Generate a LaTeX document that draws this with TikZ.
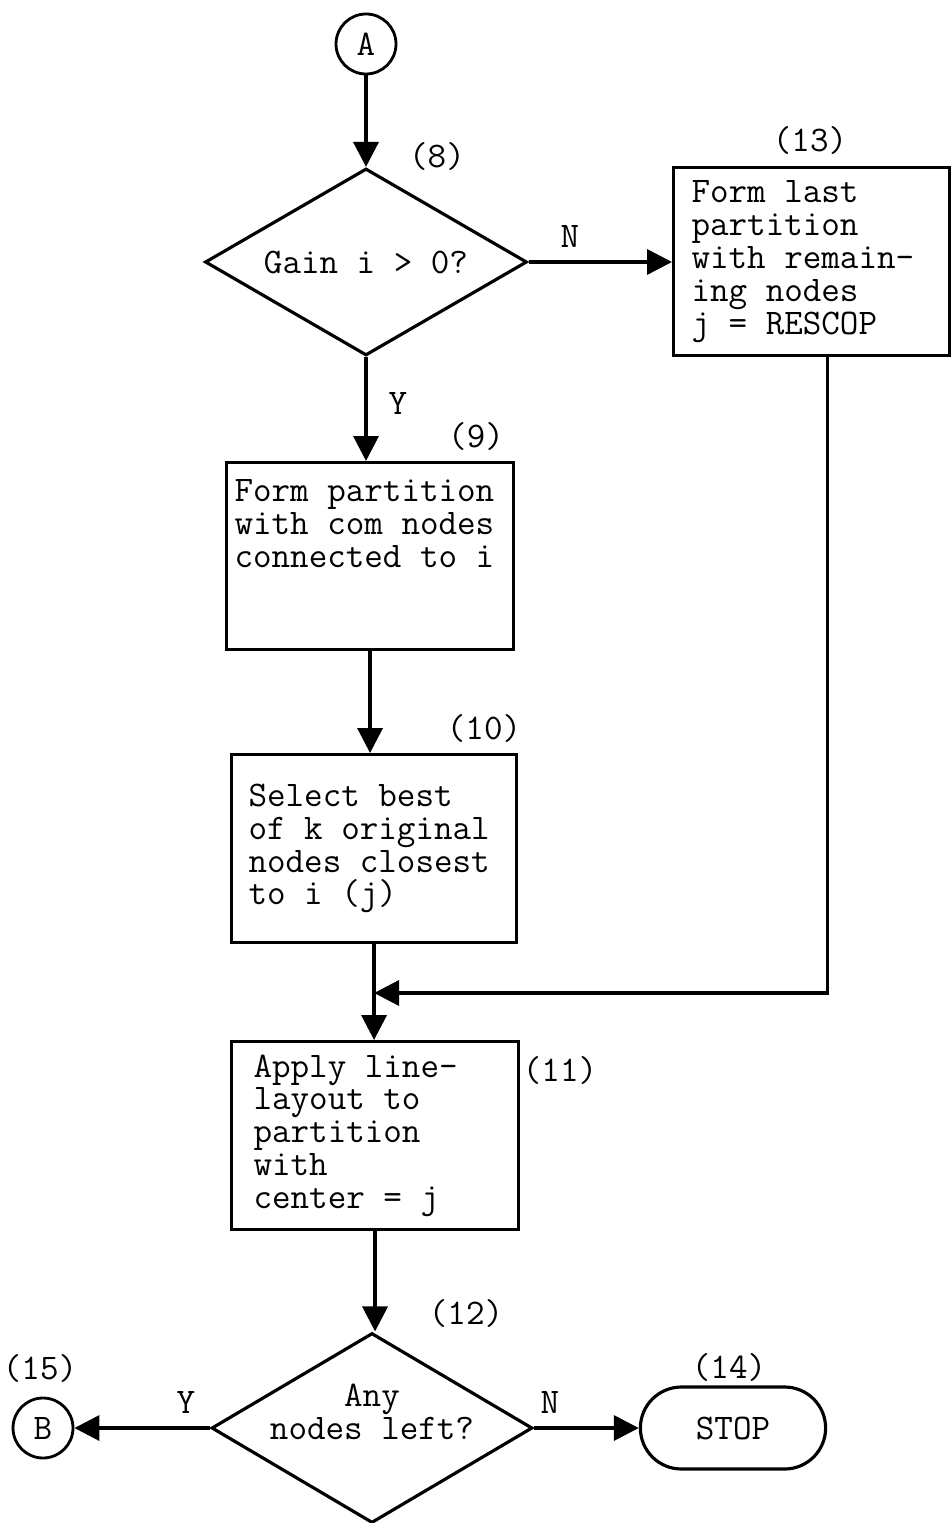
\documentclass[tikz,border=0pt]{standalone}
\usepackage{fontspec}
\usetikzlibrary{shapes.geometric,shapes.misc,arrows.meta}

\tikzset{
  every node/.style={font=\ttfamily\fontsize{20.5}{18.7}\selectfont},
  proc/.style={draw, line width=1.8pt, align=left, anchor=north west, inner ysep=0pt,
    execute at begin node={\spaceskip=\fontdimen2\font\relax}},
  decision/.style={draw, diamond, line width=1.8pt, inner sep=0pt, align=center},
  connector/.style={draw, circle, line width=1.6pt, minimum size=1.2cm, inner sep=0pt},
  terminal/.style={draw, rounded rectangle, line width=1.8pt, minimum width=3.94cm, minimum height=1.64cm},
  flow/.style={line width=2pt, -{Triangle[length=0.5cm,width=0.5cm]}},
}

\begin{document}
\begin{tikzpicture}[x=0.02cm, y=-0.02cm]
    \useasboundingbox (0,0) rectangle (950,1523);

    % Entry connector and first decision
    \node[connector] (A) at (366,44) {A};
    \node[decision, aspect=1.72, minimum width=6.44cm, minimum height=3.74cm] (gain) at (366,262) {Gain i > 0?};
    \node (l8) at (437,157) {(8)};

    % Last partition (right branch)
    \node[proc, text width=4.8cm, inner xsep=0.36cm, minimum height=3.76cm] (last) at (672,166)
      {Form last\\partition\\with remain-\\ing nodes\\j = RESCOP};
    \node (l13) at (810,141) {(13)};
    \node (lN1) at (570,236) {N};

    % Main column of steps
    \node[proc, text width=5.42cm, inner xsep=0.16cm, minimum height=3.74cm] (form) at (225,461)
      {Form partition\\with com nodes\\connected to i\\ ~\\ ~};
    \node (l9) at (476,436) {(9)};
    \node (lY1) at (398,403) {Y};

    \node[proc, text width=5.02cm, inner xsep=0.34cm, minimum height=3.76cm] (select) at (230,753)
      {Select best\\of k original\\nodes closest\\to i (j)};
    \node (l10) at (484,728) {(10)};

    \node[proc, text width=4.86cm, inner xsep=0.44cm, minimum height=3.76cm] (apply) at (230,1040)
      {Apply line-\\layout to\\partition\\with\\center = j};
    \node (l11) at (560,1070) {(11)};

    % Final decision and exits
    \node[decision, aspect=1.69, inner sep=-8pt, minimum width=6.42cm, minimum height=3.8cm] (left) at (372,1428)
      {Any\\nodes left?\\ ~};
    \node (l12) at (466,1313) {(12)};
    \node[connector] (B) at (43,1428) {B};
    \node (l15) at (40,1368) {(15)};
    \node (lY2) at (186,1402) {Y};
    \node[terminal] (stop) at (733,1428) {STOP};
    \node (l14) at (729,1367) {(14)};
    \node (lN2) at (550,1402) {N};

    % Connectors
    \draw[flow] (A.south) -- (gain.north);
    \draw[flow] (gain.east) -- (gain.east -| last.west);
    \draw[flow] (gain.south) -- (gain.south |- form.north);
    \draw[flow] (form.south) -- (form.south |- select.north);
    \draw[flow] (select.south) -- (select.south |- apply.north);
    \coordinate (merge) at (select.south |- 0,993);
    \draw[flow] ([xshift=0.32cm]last.south) |- (merge);
    \draw[flow] (apply.south) -- (apply.south |- left.north);
    \draw[flow] (left.west) -- (B.east);
    \draw[flow] (left.east) -- (stop.west);
\end{tikzpicture}
\end{document}
